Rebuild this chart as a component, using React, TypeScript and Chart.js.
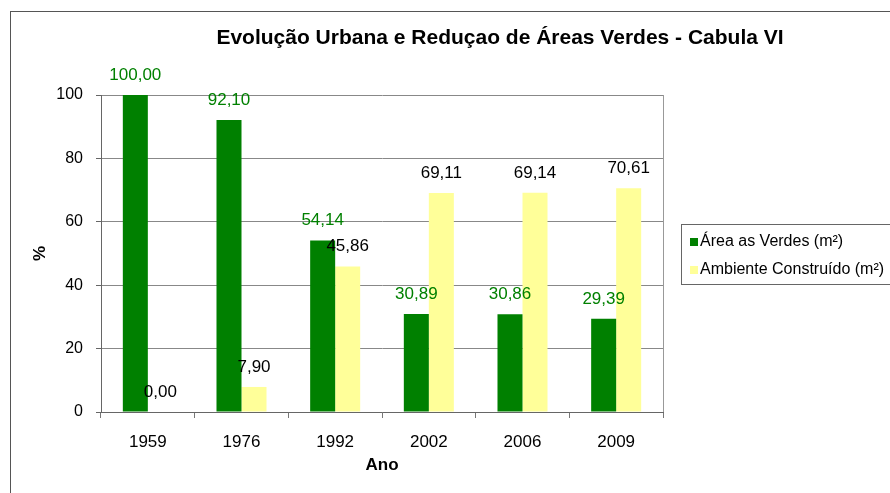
import React, { useEffect, useRef } from "react";
import { Chart, registerables } from "chart.js";

Chart.register(...registerables);

const categories = ["1959", "1976", "1992", "2002", "2006", "2009"];
const areaVerdes = [100.0, 92.1, 54.14, 30.89, 30.86, 29.39];
const ambienteConstruido = [0.0, 7.9, 45.86, 69.11, 69.14, 70.61];
const yTicks = [0, 20, 40, 60, 80, 100];
const titleText = "Evolução Urbana e Reduçao de Áreas Verdes - Cabula VI";
const seriesLabels = ["Área as Verdes (m²)", "Ambiente Construído (m²)"];
const seriesColors = ["#008000", "#FFFF99"];
const labelColors = ["#008000", "#000000"];

const FONT = "'Liberation Sans', Arial, sans-serif";

const decorPlugin = {
  id: "decor",
  beforeDraw(chart: any) {
    const ctx = chart.ctx;
    ctx.save();
    ctx.fillStyle = "#ffffff";
    ctx.fillRect(0, 0, chart.width, chart.height);
    ctx.strokeStyle = "#555555";
    ctx.lineWidth = 1;
    ctx.strokeRect(10.5, 11.5, chart.width + 20, chart.height + 20);
    ctx.restore();
  },
  afterDraw(chart: any) {
    const ctx = chart.ctx;
    const ca = chart.chartArea;
    ctx.save();
    ctx.strokeStyle = "#999999";
    ctx.lineWidth = 1;
    ctx.beginPath();
    ctx.moveTo(Math.round(ca.right) + 0.5, ca.top);
    ctx.lineTo(Math.round(ca.right) + 0.5, ca.bottom);
    ctx.stroke();

    ctx.fillStyle = "#000";
    ctx.font = `bold 21px ${FONT}`;
    ctx.textAlign = "center";
    ctx.textBaseline = "middle";
    ctx.fillText(titleText, 500, 38);

    ctx.font = `17px ${FONT}`;
    chart.data.datasets.forEach((ds: any, di: number) => {
      const meta = chart.getDatasetMeta(di);
      meta.data.forEach((el: any, i: number) => {
        const v = ds.data[i] as number;
        ctx.fillStyle = labelColors[di];
        ctx.fillText(v.toFixed(2).replace(".", ","), el.x, el.y - 20);
      });
    });

    ctx.strokeStyle = "#666666";
    ctx.strokeRect(681.5, 224.5, 260, 60);
    ctx.textAlign = "left";
    ctx.font = `16px ${FONT}`;
    chart.data.datasets.forEach((ds: any, di: number) => {
      const cy = 242 + di * 28;
      ctx.fillStyle = ds.backgroundColor;
      ctx.fillRect(690, cy - 4, 8, 8);
      ctx.fillStyle = "#000";
      ctx.fillText(ds.label, 700, cy);
    });
    ctx.restore();
  },
};

export default function App() {
  const ref = useRef<HTMLCanvasElement>(null);
  useEffect(() => {
    document.body.style.margin = "0";
    const chart = new Chart(ref.current!, {
      type: "bar",
      data: {
        labels: categories,
        datasets: [
          {
            label: seriesLabels[0],
            data: areaVerdes,
            backgroundColor: seriesColors[0],
            categoryPercentage: 0.534,
            barPercentage: 1,
          },
          {
            label: seriesLabels[1],
            data: ambienteConstruido,
            backgroundColor: seriesColors[1],
            categoryPercentage: 0.534,
            barPercentage: 1,
          },
        ],
      },
      options: {
        animation: false,
        responsive: false,
        maintainAspectRatio: false,
        layout: { padding: { left: 0, top: 95, right: 227, bottom: 0 } },
        plugins: {
          legend: { display: false },
          title: { display: false },
          tooltip: { enabled: false },
        },
        scales: {
          x: {
            type: "category",
            grid: {
              offset: true,
              drawOnChartArea: false,
              drawTicks: true,
              tickLength: 6,
              color: "#777777",
            },
            border: { display: true, color: "#666666" },
            ticks: {
              color: "#000",
              font: { family: FONT, size: 17 },
              padding: 14,
              maxRotation: 0,
            },
            title: {
              display: true,
              text: "Ano",
              color: "#000",
              font: { family: FONT, size: 17, weight: "bold" },
              padding: { top: 0, bottom: 17 },
            },
            afterFit(scale: any) {
              scale.height = 81;
            },
          },
          y: {
            min: 0,
            max: 100,
            afterBuildTicks(scale: any) {
              scale.ticks = yTicks.map((v) => ({ value: v }));
            },
            grid: {
              color: "#888888",
              tickLength: 5,
              drawTicks: true,
              tickColor: "#666666",
            },
            border: { display: true, color: "#666666" },
            ticks: {
              color: "#000",
              font: { family: FONT, size: 16 },
              padding: 13,
            },
            title: {
              display: true,
              text: "%",
              color: "#000",
              font: { family: FONT, size: 17, weight: "bold" },
              padding: { top: 30, bottom: 0 },
            },
            afterFit(scale: any) {
              scale.width = 101;
            },
          },
        },
      },
      plugins: [decorPlugin],
    });
    return () => chart.destroy();
  }, []);
  return (
    <div style={{ width: 890, height: 493 }}>
      <canvas ref={ref} width={890} height={493} style={{ display: "block" }} />
    </div>
  );
}
